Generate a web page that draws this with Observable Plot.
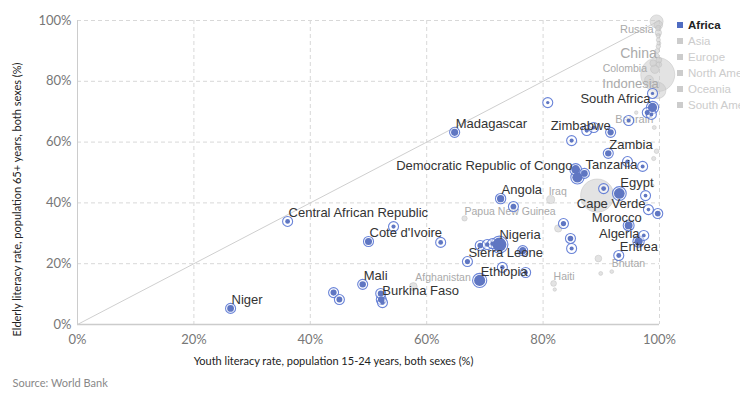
<!DOCTYPE html>
<html>
<head>
<meta charset="utf-8">
<script src="https://cdn.jsdelivr.net/npm/d3@7"></script>
<script src="https://cdn.jsdelivr.net/npm/@observablehq/plot@0.6"></script>
<style>
  body { margin: 0; background: white; }
  #wrap { position: relative; width: 740px; height: 397px; overflow: hidden; }
  #legend { position: absolute; left: 677px; top: 17px; font-family: "Liberation Sans", Arial, sans-serif; font-size: 11.5px; white-space: nowrap; }
  #legend .item { height: 16px; line-height: 16px; color: #cccccc; }
  #legend .item.on { color: #222; font-weight: bold; }
  #legend .sw { display: inline-block; width: 6px; height: 6px; margin-right: 5px; vertical-align: 1px; background: #cccccc; }
  #legend .item.on .sw { background: #4f6cc2; }
</style>
</head>
<body>
<div id="wrap"><div id="chart"></div><div id="legend"></div></div>
<script>
// ---------- data ----------
const africaNames = [
  "Niger","Central African Republic","Cote d'Ivoire","Mali","Burkina Faso","Madagascar","Angola",
  "Nigeria","Sierra Leone","Ethiopia","Egypt","Cape Verde","Morocco","Algeria","Eritrea","Tanzania",
  "Democratic Republic of Congo","Kenya","Zambia","Zimbabwe","South Africa",
  "Sao Tome and Principe","Seychelles","Libya","Equatorial Guinea","Mauritius","Gabon","Botswana","Lesotho",
  "Namibia","Swaziland","Congo","Comoros","Rwanda","Tunisia","Togo","Djibouti","Burundi","Guinea-Bissau",
  "Gambia","Liberia","Benin","Ghana","Uganda","Cameroon","Mozambique","Sudan","Chad","South Sudan","Guinea","Senegal"
];
const africaYouth = [
  26.3,36.1,50.0,49.0,52.2,64.8,72.7,
  72.5,67.0,69.1,93.1,98.1,94.7,96.4,93.0,87.1,
  85.9,85.6,91.2,91.6,98.8,
  80.8,98.8,97.9,98.6,94.7,84.9,87.5,88.7,
  94.5,97.1,90.4,97.6,74.9,99.7,83.5,97.3,84.7,84.9,
  54.3,62.4,69.2,70.4,71.3,76.5,73.0,77.0,44.0,45.0,52.1,52.4
];
const africaElderly = [
  5.3,33.9,27.3,13.2,8.2,63.2,41.4,
  26.3,20.7,14.5,43.1,37.8,32.6,27.3,22.7,49.7,
  48.4,51.0,56.3,63.2,71.4,
  73.0,76.0,69.7,69.1,67.1,60.5,63.8,64.8,
  53.6,52.0,44.7,42.4,38.8,36.5,33.2,29.3,28.3,25.0,
  32.2,27.0,26.0,26.3,26.6,24.3,18.8,17.1,10.5,8.2,10.2,7.2
];
const africaPop = [
  20,4.6,23,17,18,24,26,
  170,6.5,95,85,0.5,34,40,5,20,
  75,46,16,15,55,
  0.2,0.1,6,1.2,1.3,1.8,2.2,2.1,
  2.4,1.3,4.6,0.8,11,11,7,0.9,10,1.8,
  2,4.5,10,3,3,23,3,3,14,12,12,3
];
const africaLabeled = [
  "Niger","Central African Republic","Cote d'Ivoire","Mali","Burkina Faso","Madagascar","Angola",
  "Nigeria","Sierra Leone","Ethiopia","Egypt","Cape Verde","Morocco","Algeria","Eritrea","Tanzania",
  "Democratic Republic of Congo","Zambia","Zimbabwe","South Africa"
];

const otherNames = [
  "Russia","Ukraine","Belarus","Kazakhstan","Armenia","Latvia","Estonia","Lithuania","Georgia","Moldova",
  "Cuba","Azerbaijan","Argentina","Chile","China","Colombia","Indonesia","Brunei","Bahrain","Kuwait","Qatar",
  "Tonga","Iraq","India","Papua New Guinea","Yemen","Nepal","Timor-Leste","Bhutan","Haiti","Vanuatu","Afghanistan"
];
const otherRegion = [
  "Europe","Europe","Europe","Asia","Asia","Europe","Europe","Europe","Asia","Europe",
  "North America","Asia","South America","South America","Asia","South America","Asia","Asia","Asia","Asia","Asia",
  "Oceania","Asia","Asia","Oceania","Asia","Asia","Asia","Asia","North America","Oceania","Asia"
];
const otherYouth = [
  99.5,99.8,99.8,99.8,99.8,99.8,99.9,99.8,99.6,99.5,
  99.9,99.9,99.2,98.9,99.7,98.2,99.7,96.0,99.1,99.5,99.0,
  98.8,81.3,89.3,66.5,82.6,89.5,89.9,91.8,81.8,82.0,57.7
];
const otherElderly = [
  99.7,98.5,97.5,96.0,95.0,93.6,92.5,91.5,90.0,88.5,
  87.0,85.5,84.0,86.0,82.2,80.5,77.0,69.7,64.8,57.0,54.6,
  45.7,41.1,42.4,34.9,31.6,21.7,16.8,17.4,13.5,11.5,12.5
];
const otherPop = [
  144,45,9.5,17,3,2,1.3,3,3.7,3.5,
  11,9.5,43,18,1370,48,255,0.4,1.4,3.9,2.2,
  0.1,36,1300,7.6,27,20,1.2,0.8,11,0.3,33
];
const otherLabeled = ["Russia","China","Colombia","Indonesia","Bahrain","Iraq","Papua New Guinea","Afghanistan","Haiti","Bhutan"];

const legendRegions = ["Africa","Asia","Europe","North America","Oceania","South America"];
const shownRegion = "Africa";
const axisTicks = [0, 20, 40, 60, 80, 100];
const diagonal = [0, 100];
const xTitle = "Youth literacy rate, population 15-24 years, both sexes (%)";
const yTitle = "Elderly literacy rate, population 65+ years, both sexes (%)";
const source = "Source: World Bank";

// ---------- build ----------
const africa = africaNames.map((name, i) => ({name, youth: africaYouth[i], elderly: africaElderly[i], pop: africaPop[i]}));
const others = otherNames.map((name, i) => ({name, region: otherRegion[i], youth: otherYouth[i], elderly: otherElderly[i], pop: otherPop[i]}))
  .sort((a, b) => b.pop - a.pop);

const rScale = Plot.scale({r: {type: "sqrt", domain: [0, 1370], range: [1.5, 17]}});
const radius = d => rScale.apply(d.pop);
const ringRadius = d => Math.max(5, rScale.apply(d.pop) + 1.5);

const africaPlacement = {
  "Democratic Republic of Congo": ["end", -5, -12],
  "South Africa": ["end", -2, -9],
  "Zimbabwe": ["end", 0, -7],
  "Cape Verde": ["end", -3, -6],
  "Algeria": ["end", 1, -8],
  "Morocco": ["end", 13, -8],
  "Egypt": ["start", 1, -11],
  "Nigeria": ["start", 0, -10]
};
const otherPlacement = {
  "Russia": ["end", -3, 8, 11],
  "China": ["end", -1, -21, 14],
  "Colombia": ["end", -2, -11, 10.5],
  "Indonesia": ["end", 1, -7, 13],
  "Bahrain": ["end", -1, -8, 11],
  "Iraq": ["start", -2, -8, 10.5],
  "Papua New Guinea": ["start", 0, -7, 10.5],
  "Afghanistan": ["start", 2, -9, 10.5],
  "Haiti": ["start", 0, -7, 10.5],
  "Bhutan": ["start", 0, -8, 10.5]
};

const pct = d => d + "%";
const blueFill = "#5f76c2";
const blueRing = "#5a77d4";

const africaLabelMarks = africaLabeled.map(name => {
  const [anchor, dx, dy] = africaPlacement[name] || ["start", 1, -9];
  return Plot.text(africa.filter(d => d.name === name), {
    x: "youth", y: "elderly", text: "name", textAnchor: anchor, dx, dy,
    fontSize: 13, fill: "#333", fontFamily: "Liberation Sans, Arial, sans-serif"
  });
});
const otherLabelMarks = otherLabeled.map(name => {
  const [anchor, dx, dy, fs] = otherPlacement[name];
  return Plot.text(others.filter(d => d.name === name), {
    x: "youth", y: "elderly", text: "name", textAnchor: anchor, dx, dy,
    fontSize: fs, fill: "#aaaaaa", fontFamily: "Liberation Sans, Arial, sans-serif"
  });
});

const chart = Plot.plot({
  width: 740,
  height: 397,
  marginLeft: 77,
  marginRight: 81,
  marginTop: 20,
  marginBottom: 73,
  style: {fontFamily: "Lato, sans-serif", fontSize: "13px", color: "#777", background: "white", overflow: "visible"},
  x: {domain: [0, 100]},
  y: {domain: [0, 100]},
  r: {type: "identity"},
  marks: [
    Plot.gridX(axisTicks, {stroke: "#d8d8d8", strokeOpacity: 1, strokeDasharray: "4,3"}),
    Plot.gridY(axisTicks, {stroke: "#d8d8d8", strokeOpacity: 1, strokeDasharray: "4,3"}),
    Plot.ruleX([0], {stroke: "#cccccc"}),
    Plot.ruleY([0], {stroke: "#cccccc", strokeWidth: 1.5}),
    Plot.axisX({ticks: axisTicks, tickFormat: pct, tickSize: 0, tickPadding: 10, label: null, fontSize: 13}),
    Plot.axisY({ticks: axisTicks, tickFormat: pct, tickSize: 0, tickPadding: 6, label: null, fontSize: 13}),
    Plot.lineY(diagonal, {x: d => d, y: d => d, stroke: "#cfcfcf", strokeWidth: 1}),
    Plot.dot(others, {x: "youth", y: "elderly", r: radius, fill: "#cccccc", fillOpacity: 0.55, stroke: "#bdbdbd", strokeOpacity: 0.45, strokeWidth: 1}),
    ...otherLabelMarks,
    Plot.dot(africa, {x: "youth", y: "elderly", r: ringRadius, fill: "white", fillOpacity: 0.5, stroke: blueRing, strokeOpacity: 0.9, strokeWidth: 1.1}),
    Plot.dot(africa, {x: "youth", y: "elderly", r: radius, fill: blueFill, stroke: "none"}),
    ...africaLabelMarks,
    Plot.text([yTitle], {frameAnchor: "left", dx: -60, dy: 27, rotate: -90, textAnchor: "middle", fontSize: 11, fill: "#222", fontFamily: "Lato, sans-serif"}),
    Plot.text([xTitle], {frameAnchor: "bottom-left", dx: 256, dy: 40, textAnchor: "middle", fontSize: 11, fill: "#222", fontFamily: "Lato, sans-serif"}),
    Plot.text([source], {frameAnchor: "bottom-left", dx: -65, dy: 62, textAnchor: "start", fontSize: 11, fill: "#888", fontFamily: "Lato, sans-serif"})
  ]
});
document.getElementById("chart").appendChild(chart);

const legend = document.getElementById("legend");
legendRegions.forEach(r => {
  const item = document.createElement("div");
  item.className = "item" + (r === shownRegion ? " on" : "");
  const sw = document.createElement("span");
  sw.className = "sw";
  item.appendChild(sw);
  item.appendChild(document.createTextNode(r));
  legend.appendChild(item);
});
</script>
</body>
</html>
